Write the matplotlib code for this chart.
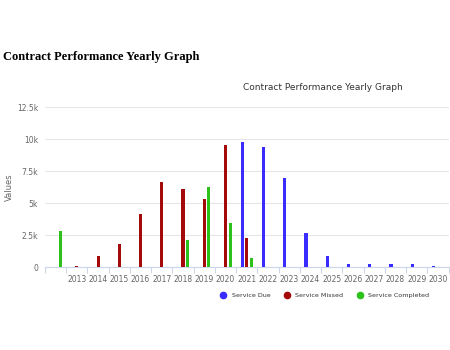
import matplotlib
matplotlib.use("Agg")
import matplotlib.pyplot as plt
import numpy as np
from matplotlib.lines import Line2D

# categories (first one has no label on the axis)
categories = ["", "2013", "2014", "2015", "2016", "2017", "2018", "2019", "2020",
              "2021", "2022", "2023", "2024", "2025", "2026", "2027", "2028", "2029", "2030"]
service_due = [0, 0, 0, 0, 0, 0, 0, 0, 0,
               9800, 9350, 6950, 2650, 900, 250, 250, 250, 250, 100]
service_missed = [0, 50, 850, 1800, 4150, 6650, 6100, 5350, 9500,
                  2250, 0, 0, 0, 0, 0, 0, 0, 0, 0]
service_completed = [2800, 0, 0, 0, 0, 0, 2150, 6250, 3450,
                     700, 0, 0, 0, 0, 0, 0, 0, 0, 0]

c_due = "#3a2bff"
c_missed = "#a50a0a"
c_completed = "#2cc21b"
axis_col = "#ccd6eb"
text_col = "#666666"

fig = plt.figure(figsize=(4.5, 3.5), dpi=100)
ax = fig.add_axes([0.1, 0.237, 0.897, 0.457])

x = np.arange(len(categories))
w = 0.15
off = 0.215
ax.bar(x - off, service_due, width=w, color=c_due, zorder=3)
ax.bar(x, service_missed, width=w, color=c_missed, zorder=3)
ax.bar(x + off, service_completed, width=w, color=c_completed, zorder=3)

ax.set_xlim(-0.5, len(categories) - 0.5)
ax.set_ylim(0, 12500)
ax.set_yticks([0, 2500, 5000, 7500, 10000, 12500])
ax.set_yticklabels(["0", "2.5k", "5k", "7.5k", "10k", "12.5k"])
ax.grid(axis="y", color="#e6e6e6", linewidth=0.8, zorder=0)

ax.set_xticks(x)
ax.set_xticklabels(categories)
ax.set_xticks(np.arange(-0.5, len(categories)), minor=True)
ax.tick_params(axis="x", which="major", length=0, pad=6, labelsize=5.5, labelcolor=text_col)
ax.tick_params(axis="x", which="minor", length=4, color=axis_col, width=0.8)
ax.tick_params(axis="y", length=0, pad=5, labelsize=5.5, labelcolor=text_col)

for s in ["top", "right", "left"]:
    ax.spines[s].set_visible(False)
ax.spines["bottom"].set_color(axis_col)
ax.spines["bottom"].set_linewidth(0.8)

ax.set_ylabel("Values", fontsize=6, color=text_col)
ax.yaxis.set_label_coords(-0.077, 0.5)

fig.text(0.007, 0.837, "Contract Performance Yearly Graph", family="Liberation Serif",
         fontweight="bold", fontsize=9, va="center", ha="left", color="black")
fig.text(0.718, 0.751, "Contract Performance Yearly Graph", fontsize=6.5,
         ha="center", va="center", color="#333333")

handles = [Line2D([], [], marker="o", linestyle="", color=c, markersize=4.5)
           for c in [c_due, c_missed, c_completed]]
fig.legend(handles, ["Service Due", "Service Missed", "Service Completed"],
           loc="center", bbox_to_anchor=(0.718, 0.157), ncol=3, frameon=False,
           fontsize=4.6, handletextpad=0.3, columnspacing=1.6, labelcolor="#333333")

fig.savefig("out.png", dpi=100)
